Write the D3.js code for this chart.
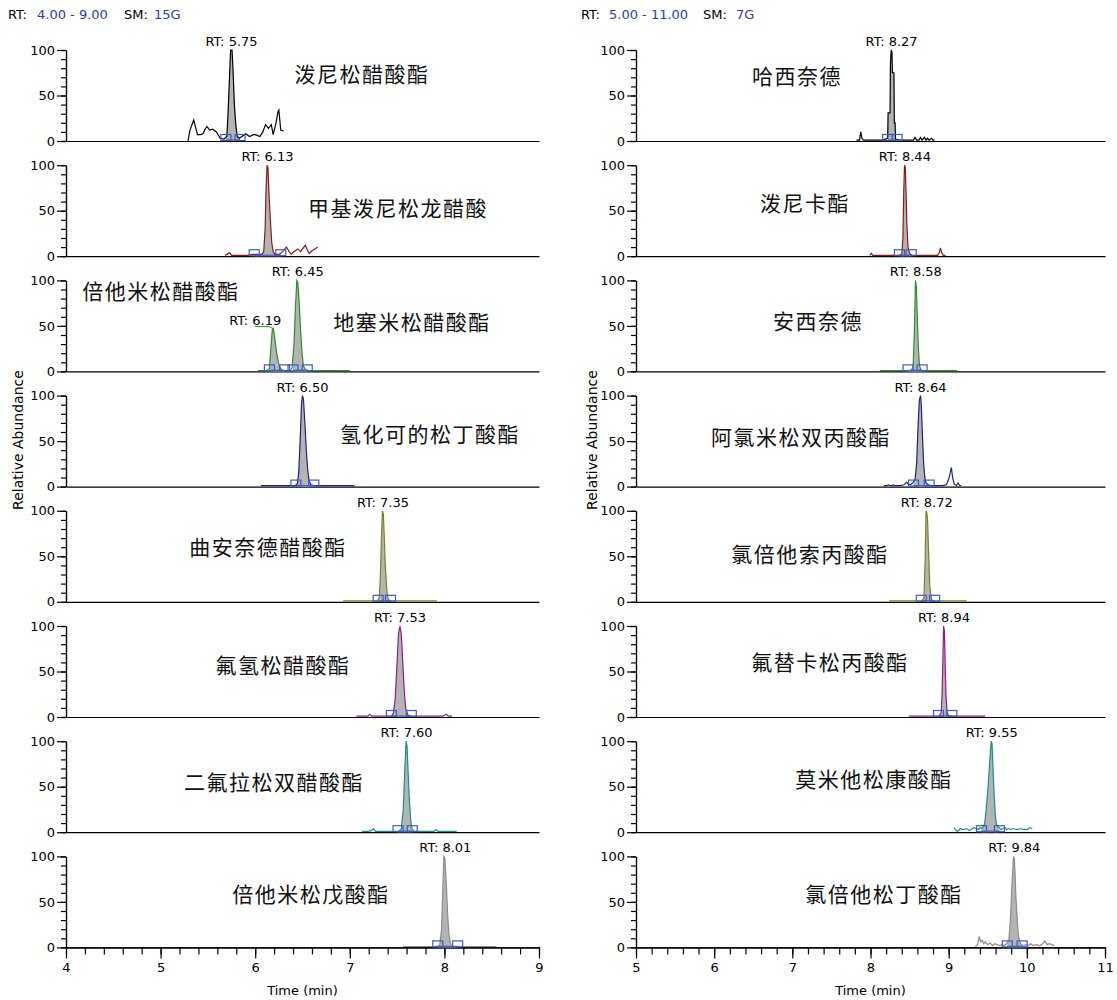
<!DOCTYPE html>
<html>
<head>
<meta charset="utf-8">
<script src="https://cdn.jsdelivr.net/npm/d3@7"></script>
<style>
  body { margin: 0; background: #fff; }
  svg { display: block; }
</style>
</head>
<body>
<svg id="chart" width="1117" height="1000"></svg>
<script>
// ---------- chromatogram data: [time (min), relative abundance %] ----------
const traceL1 = [[5.29,0],[5.31,12],[5.35,23],[5.37,15],[5.39,7],[5.42,7],[5.45,8],[5.47,13],[5.49,16],[5.52,12],[5.55,13],[5.59,10],[5.63,3],[5.67,2],[5.70,5],[5.715,35],[5.73,75],[5.74,100],[5.755,100],[5.765,80],[5.78,40],[5.795,18],[5.81,5],[5.83,3],[5.86,5],[5.90,8],[5.94,5],[5.98,7],[6.00,7],[6.05,5],[6.08,10],[6.11,18],[6.14,14],[6.17,18],[6.19,7],[6.22,20],[6.24,32],[6.25,34],[6.27,12],[6.30,11]];
const traceL2 = [[5.68,1],[5.70,2],[5.73,4],[5.75,1],[5.80,1],[5.86,1],[5.92,1],[5.97,2],[6.02,2],[6.07,2],[6.09,5],[6.105,30],[6.115,75],[6.125,100],[6.135,97],[6.145,70],[6.16,40],[6.175,15],[6.19,5],[6.21,2],[6.25,2],[6.29,5],[6.33,10],[6.36,5],[6.38,2],[6.41,5],[6.45,8],[6.48,5],[6.50,8],[6.53,12],[6.55,7],[6.57,3],[6.60,6],[6.63,8],[6.66,10]];
const traceL3 = [[6.03,1],[6.08,1],[6.12,1],[6.15,3],[6.165,25],[6.18,45],[6.19,47],[6.20,42],[6.215,30],[6.23,18],[6.25,8],[6.27,3],[6.29,1],[6.33,1],[6.37,1],[6.39,4],[6.41,30],[6.425,70],[6.44,100],[6.45,98],[6.465,75],[6.48,45],[6.495,20],[6.51,6],[6.53,2],[6.56,1],[6.65,1],[6.75,1],[6.85,1],[7.00,1]];
const traceL4 = [[6.06,1],[6.15,1],[6.25,1],[6.35,1],[6.42,1],[6.445,3],[6.46,15],[6.475,50],[6.49,92],[6.50,100],[6.51,96],[6.525,70],[6.54,40],[6.555,18],[6.57,6],[6.59,2],[6.62,1],[6.70,1],[6.80,1],[6.90,1],[7.05,1]];
const traceL5 = [[6.93,1],[7.05,1],[7.15,1],[7.25,1],[7.29,1],[7.31,4],[7.32,20],[7.335,70],[7.345,100],[7.355,96],[7.365,70],[7.375,40],[7.39,15],[7.40,5],[7.42,1],[7.50,1],[7.60,1],[7.70,1],[7.80,1],[7.92,1]];
const traceL6 = [[7.07,1],[7.15,1],[7.19,1],[7.21,3],[7.23,1],[7.30,1],[7.38,1],[7.44,1],[7.46,4],[7.48,20],[7.50,60],[7.515,92],[7.53,100],[7.545,90],[7.56,60],[7.575,30],[7.59,10],[7.61,3],[7.63,1],[7.70,1],[7.80,1],[7.90,1],[7.98,1],[8.00,2],[8.02,3],[8.04,1],[8.08,1]];
const traceL7 = [[7.13,1],[7.20,1],[7.23,2],[7.25,4],[7.27,1],[7.35,1],[7.45,1],[7.52,1],[7.545,4],[7.565,25],[7.58,65],[7.595,100],[7.605,95],[7.615,70],[7.63,35],[7.645,12],[7.66,3],[7.68,1],[7.80,1],[7.89,1],[7.91,3],[7.93,1],[8.00,1],[8.13,1]];
const traceL8 = [[7.56,1],[7.70,1],[7.80,1],[7.90,1],[7.95,2],[7.97,20],[7.985,70],[7.995,100],[8.005,98],[8.02,70],[8.035,35],[8.05,12],[8.065,4],[8.08,1],[8.12,1],[8.20,1],[8.30,1],[8.40,1],[8.55,1]];

const traceR1 = [[7.82,1],[7.86,1],[7.875,10],[7.89,3],[7.91,1],[7.98,1],[8.06,1],[8.12,1],[8.16,1],[8.19,2],[8.22,3],[8.225,31],[8.25,31],[8.255,85],[8.265,100],[8.275,98],[8.28,75],[8.30,75],[8.305,20],[8.315,20],[8.32,2],[8.36,1],[8.42,1],[8.50,1],[8.55,1],[8.57,4],[8.59,1],[8.62,1],[8.64,4],[8.66,1],[8.69,4],[8.71,1],[8.73,3],[8.75,1],[8.78,3],[8.80,1],[8.82,1]];
const traceR2 = [[7.99,1],[8.01,3],[8.03,1],[8.08,1],[8.15,1],[8.22,1],[8.30,1],[8.36,1],[8.40,2],[8.415,20],[8.425,70],[8.435,100],[8.445,98],[8.455,70],[8.465,35],[8.48,10],[8.50,3],[8.53,1],[8.60,1],[8.70,1],[8.80,1],[8.86,1],[8.88,4],[8.895,9],[8.91,4],[8.93,1],[8.96,1]];
const traceR3 = [[8.12,1],[8.25,1],[8.35,1],[8.45,1],[8.52,1],[8.545,5],[8.56,40],[8.575,100],[8.585,95],[8.595,70],[8.61,30],[8.625,8],[8.64,2],[8.66,1],[8.75,1],[8.85,1],[8.95,1],[9.05,1],[9.11,1]];
const traceR4 = [[8.17,1],[8.21,1],[8.23,2],[8.25,1],[8.28,1],[8.29,2],[8.31,1],[8.38,1],[8.43,2],[8.46,5],[8.48,3],[8.51,2],[8.54,4],[8.57,8],[8.59,25],[8.61,70],[8.625,95],[8.64,100],[8.65,90],[8.665,55],[8.68,25],[8.695,10],[8.71,4],[8.74,2],[8.78,1],[8.85,1],[8.92,1],[8.97,2],[9.00,8],[9.02,15],[9.035,21],[9.05,10],[9.07,3],[9.10,1],[9.12,4],[9.14,1],[9.16,1]];
const traceR5 = [[8.24,1],[8.30,1],[8.40,1],[8.50,1],[8.60,1],[8.66,1],[8.685,5],[8.70,50],[8.71,100],[8.72,98],[8.73,90],[8.745,50],[8.76,15],[8.78,3],[8.80,1],[8.90,1],[9.00,1],[9.10,1],[9.23,1]];
const traceR6 = [[8.49,1],[8.60,1],[8.70,1],[8.80,1],[8.88,1],[8.905,5],[8.915,25],[8.925,60],[8.935,100],[8.945,95],[8.955,60],[8.965,25],[8.98,5],[9.00,1],[9.10,1],[9.20,1],[9.30,1],[9.47,1]];
const traceR7 = [[9.07,5],[9.09,2],[9.11,1],[9.13,2],[9.15,4],[9.17,3],[9.20,3],[9.23,4],[9.26,2],[9.29,3],[9.32,5],[9.35,4],[9.38,3],[9.40,5],[9.42,4],[9.44,6],[9.46,9],[9.48,25],[9.50,45],[9.52,70],[9.535,90],[9.545,100],[9.555,97],[9.565,75],[9.58,45],[9.595,20],[9.61,9],[9.63,6],[9.65,5],[9.67,3],[9.70,4],[9.72,5],[9.74,3],[9.77,4],[9.80,3],[9.83,4],[9.86,3],[9.89,3],[9.92,4],[9.95,3],[9.98,3],[10.01,3],[10.04,5],[10.07,4]];
const traceR8 = [[9.34,1],[9.37,3],[9.39,12],[9.41,6],[9.43,8],[9.45,4],[9.47,6],[9.50,3],[9.53,5],[9.56,2],[9.59,4],[9.62,3],[9.65,2],[9.68,3],[9.71,2],[9.74,4],[9.77,8],[9.79,30],[9.81,70],[9.83,100],[9.84,97],[9.85,80],[9.86,55],[9.875,35],[9.89,15],[9.91,6],[9.93,3],[9.96,2],[9.99,3],[10.02,2],[10.05,4],[10.08,2],[10.12,3],[10.16,2],[10.19,3],[10.21,5],[10.23,7],[10.26,3],[10.29,4],[10.32,3],[10.35,2]];

// integrated peaks: retention time and integration limits (min)
const peaksLeft = [
  [{ rt: 5.75, from: 5.69, to: 5.84 }],
  [{ rt: 6.13, from: 5.99, to: 6.27 }],
  [{ rt: 6.19, from: 6.15, to: 6.31, labelAt: 6.00 }, { rt: 6.45, from: 6.40, to: 6.55 }],
  [{ rt: 6.50, from: 6.43, to: 6.62 }],
  [{ rt: 7.35, from: 7.30, to: 7.43 }],
  [{ rt: 7.53, from: 7.44, to: 7.65 }],
  [{ rt: 7.60, from: 7.51, to: 7.66 }],
  [{ rt: 8.01, from: 7.93, to: 8.14 }]
];
const peaksRight = [
  [{ rt: 8.27, from: 8.22, to: 8.34 }],
  [{ rt: 8.44, from: 8.37, to: 8.52 }],
  [{ rt: 8.58, from: 8.48, to: 8.66 }],
  [{ rt: 8.64, from: 8.55, to: 8.75 }],
  [{ rt: 8.72, from: 8.65, to: 8.82 }],
  [{ rt: 8.94, from: 8.87, to: 9.04 }],
  [{ rt: 9.55, from: 9.42, to: 9.65 }],
  [{ rt: 9.84, from: 9.75, to: 9.94 }]
];

const namesLeft = [["泼尼松醋酸酯"], ["甲基泼尼松龙醋酸"], ["倍他米松醋酸酯", "地塞米松醋酸酯"], ["氢化可的松丁酸酯"],
                   ["曲安奈德醋酸酯"], ["氟氢松醋酸酯"], ["二氟拉松双醋酸酯"], ["倍他米松戊酸酯"]];
const namesRight = [["哈西奈德"], ["泼尼卡酯"], ["安西奈德"], ["阿氯米松双丙酸酯"],
                    ["氯倍他索丙酸酯"], ["氟替卡松丙酸酯"], ["莫米他松康酸酯"], ["氯倍他松丁酸酯"]];

const traceColors = ["#000000", "#8c1c1c", "#2f8c2f", "#1f237c", "#80801f", "#8c1e8c", "#1f8c8c", "#8c8c8c"];

const headerLeft = [["RT:", false], ["4.00 - 9.00", true], ["SM:", false], ["15G", true]];
const headerRight = [["RT:", false], ["5.00 - 11.00", true], ["SM:", false], ["7G", true]];

const rangeLeft = [4, 9];
const rangeRight = [5, 11];

// ---------- layout ----------
const TOP0 = 50, PITCH = 115.2, PH = 91;
const LATIN = "'DejaVu Sans', Verdana, sans-serif";
const CJK = "'Noto Sans CJK SC', sans-serif";
const FILL = "#b4b4b4", BOX = "#3a5cc8", HEAD_BLUE = "#2b3ea6";

const columns = [
  { x0: 66, x1: 539, domain: rangeLeft, traces: [traceL1, traceL2, traceL3, traceL4, traceL5, traceL6, traceL7, traceL8],
    peaks: peaksLeft, names: namesLeft, header: headerLeft, headerX: [8, 37, 124, 154], yLabelX: 18,
    namePos: [[[296, 23]], [[332, 42]], [[95, 10], [346, 41]], [[364, 37]], [[202, 35]], [[217, 38]], [[208, 40]], [[245, 37]]] },
  { x0: 636, x1: 1105, domain: rangeRight, traces: [traceR1, traceR2, traceR3, traceR4, traceR5, traceR6, traceR7, traceR8],
    peaks: peaksRight, names: namesRight, header: headerRight, headerX: [581, 609, 703, 736], yLabelX: 592,
    namePos: [[[161, 25]], [[169, 37]], [[182, 40]], [[165, 40]], [[174, 42]], [[194, 35]], [[238, 37]], [[248, 37]]] }
];

const svg = d3.select("#chart");

// portion of a trace between two times, with interpolated end points
function clipTrace(trace, a, b) {
  const at = t => {
    for (let k = 1; k < trace.length; k++) {
      const p = trace[k - 1], q = trace[k];
      if (t >= p[0] && t <= q[0]) return p[1] + (q[1] - p[1]) * (t - p[0]) / (q[0] - p[0]);
    }
    return 0;
  };
  return [[a, at(a)], ...trace.filter(d => d[0] > a && d[0] < b), [b, at(b)]];
}

function styleText(sel, size) {
  sel.attr("font-family", LATIN).attr("font-size", size).attr("fill", "#000");
}

columns.forEach(col => {
  const x = d3.scaleLinear().domain(col.domain).range([col.x0, col.x1]);

  // header line
  const head = svg.append("text").attr("y", 19).attr("font-family", LATIN).attr("font-size", 13);
  col.header.forEach(([s, isBlue], k) => {
    head.append("tspan").attr("x", col.headerX[k]).attr("fill", isBlue ? HEAD_BLUE : "#000").text(s);
  });

  col.traces.forEach((trace, i) => {
    const top = TOP0 + i * PITCH;
    const y = d3.scaleLinear().domain([0, 100]).range([top + PH, top]);
    const g = svg.append("g");
    const last = i === col.traces.length - 1;

    // y axis: minor and major ticks
    const yMinor = g.append("g").attr("transform", `translate(${col.x0},0)`)
      .call(d3.axisLeft(y).tickValues(d3.range(0, 101, 10)).tickSize(5).tickSizeOuter(0).tickFormat(""));
    const yMajor = g.append("g").attr("transform", `translate(${col.x0},0)`)
      .call(d3.axisLeft(y).tickValues([0, 50, 100]).tickSize(9).tickPadding(2).tickSizeOuter(0));
    styleText(yMajor.selectAll("text"), 13);

    // x axis
    if (last) {
      g.append("g").attr("transform", `translate(0,${y(0)})`)
        .call(d3.axisBottom(x).tickValues(d3.range(col.domain[0], col.domain[1] + 0.001, 0.2)).tickSize(7).tickSizeOuter(0).tickFormat(""));
      const xMajor = g.append("g").attr("transform", `translate(0,${y(0)})`)
        .call(d3.axisBottom(x).tickValues(d3.range(col.domain[0], col.domain[1] + 1, 1)).tickSize(11).tickPadding(4).tickSizeOuter(0).tickFormat(d3.format("d")));
      styleText(xMajor.selectAll("text"), 13);
      g.append("text").attr("x", (col.x0 + col.x1) / 2).attr("y", 995).attr("text-anchor", "middle")
        .call(styleText, 13).text("Time (min)");
    } else {
      g.append("g").attr("transform", `translate(0,${y(0)})`)
        .call(d3.axisBottom(x).tickValues([]).tickSizeOuter(0));
    }
    g.selectAll(".domain, .tick line").attr("stroke", "#000").attr("stroke-width", 1.2);

    // filled peak areas
    const area = d3.area().x(d => x(d[0])).y0(y(0)).y1(d => y(d[1]));
    col.peaks[i].forEach(p => {
      g.append("path").attr("d", area(clipTrace(trace, p.from, p.to))).attr("fill", FILL);
    });

    // trace
    g.append("path")
      .attr("d", d3.line().x(d => x(d[0])).y(d => y(d[1]))(trace))
      .attr("fill", "none").attr("stroke", traceColors[i]).attr("stroke-width", 1.2);

    // integration baseline and boundary markers
    col.peaks[i].forEach(p => {
      g.append("line").attr("x1", x(p.from)).attr("x2", x(p.to)).attr("y1", y(0) - 1).attr("y2", y(0) - 1)
        .attr("stroke", BOX).attr("stroke-width", 1.2);
      [p.from, p.to].forEach(t => {
        g.append("rect").attr("x", x(t) - 5).attr("y", y(0) - 6.5).attr("width", 10).attr("height", 6)
          .attr("fill", "none").attr("stroke", BOX).attr("stroke-width", 1.2);
      });
    });

    // retention time labels
    col.peaks[i].forEach(p => {
      const apex = d3.max(clipTrace(trace, p.from, p.to), d => d[1]);
      const lx = x(p.labelAt !== undefined ? p.labelAt : p.rt);
      g.append("text").attr("x", lx).attr("y", y(apex) - 4).attr("text-anchor", "middle")
        .call(styleText, 13).text("RT: " + p.rt.toFixed(2));
      if (p.labelAt !== undefined) {
        g.append("polyline")
          .attr("points", [[lx, y(apex) - 2], [x(p.rt) - 4, y(apex) - 2], [x(p.rt), y(apex)]].join(" "))
          .attr("fill", "none").attr("stroke", traceColors[i]).attr("stroke-width", 1);
      }
    });

    // compound names
    col.names[i].forEach((name, k) => {
      const [dx, dy] = col.namePos[i][k];
      g.append("text").attr("x", col.x0 + dx).attr("y", top + dy).attr("text-anchor", "middle")
        .attr("dominant-baseline", "central").attr("font-family", CJK).attr("font-size", 21)
        .attr("letter-spacing", 1.5).attr("fill", "#111").text(name);
    });
  });

  // y axis title
  svg.append("text").attr("transform", `translate(${col.yLabelX},440) rotate(-90)`).attr("text-anchor", "middle")
    .attr("dominant-baseline", "central").call(styleText, 14).text("Relative Abundance");
});
</script>
</body>
</html>
